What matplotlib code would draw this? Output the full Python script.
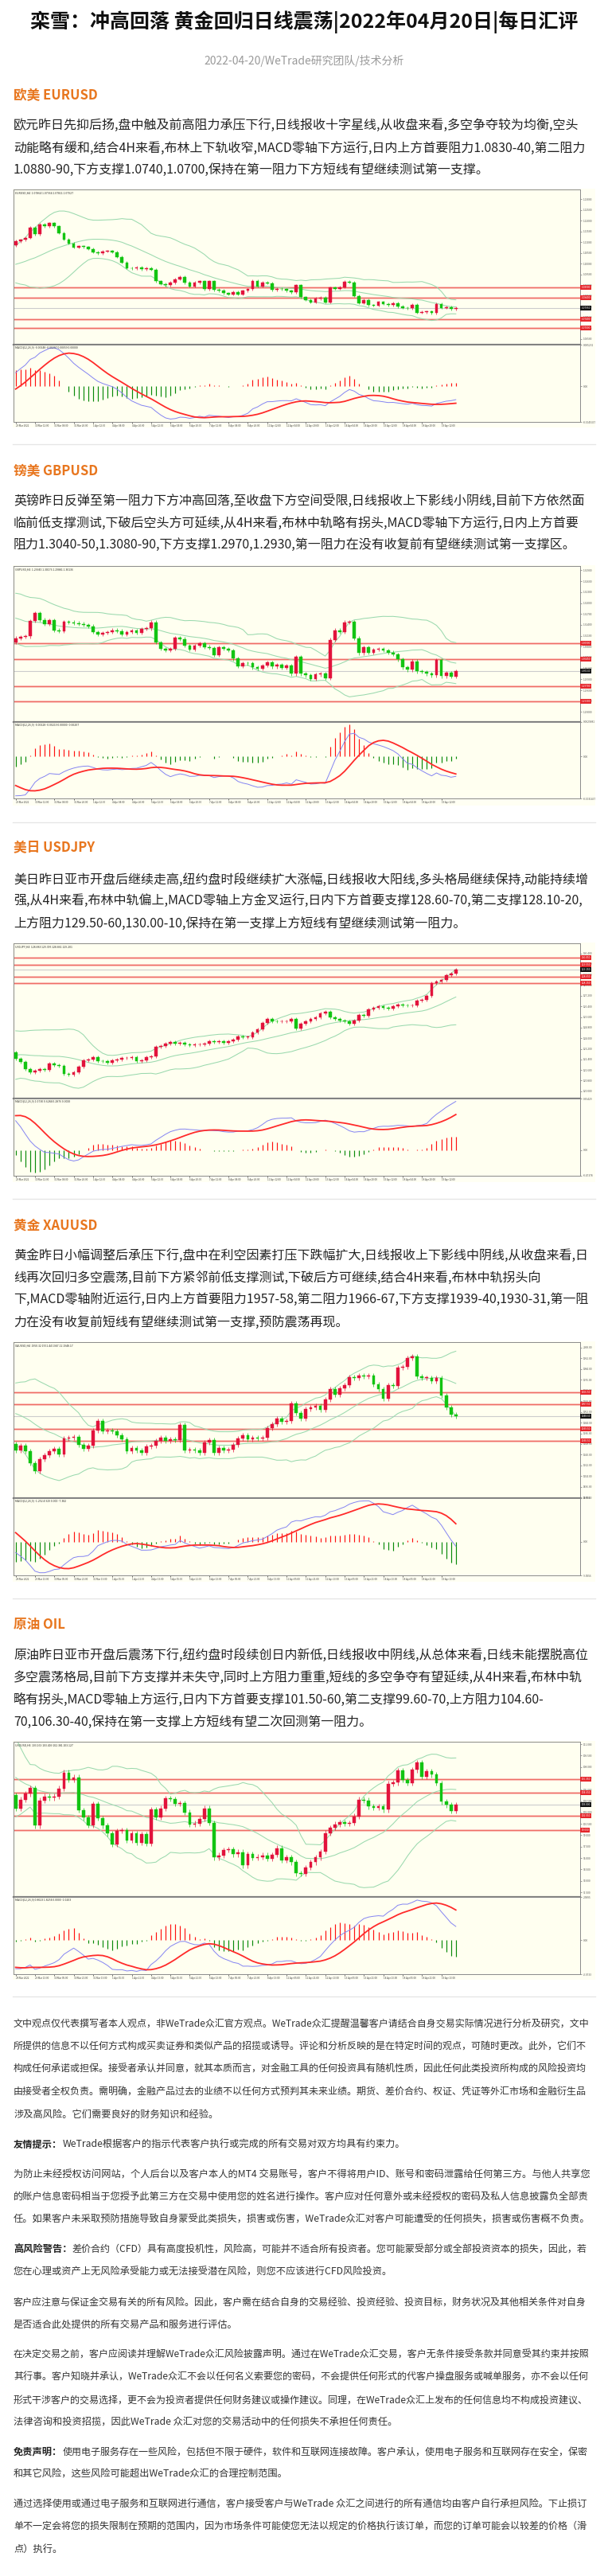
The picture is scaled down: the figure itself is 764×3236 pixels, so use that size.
import numpy as np
import pandas as pd
import matplotlib
matplotlib.use('Agg')
import matplotlib.pyplot as plt
from matplotlib.patches import Rectangle
from matplotlib.ticker import MaxNLocator

plt.rcParams['font.family'] = ['Noto Sans CJK SC', 'DejaVu Sans']

W, H = 764, 3236

# ---- 4H closes (plus a short run of earlier bars for the indicators) ----
eur_prior = [1.1030, 1.1025, 1.1035, 1.1020, 1.1010, 1.1005, 1.1015, 1.1000, 1.0990, 1.0985,
             1.0995, 1.0980, 1.0975, 1.0985, 1.0990, 1.0980, 1.0970, 1.0975, 1.0985, 1.0980,
             1.0965, 1.0955, 1.0950, 1.0960, 1.0975, 1.0990, 1.1020, 1.1045, 1.1070, 1.1085]
eur_close = [1.1104, 1.1110, 1.1120, 1.1168, 1.1138, 1.1184, 1.1175, 1.1188, 1.1174, 1.1143,
             1.1113, 1.1094, 1.1076, 1.1081, 1.1077, 1.1069, 1.1054, 1.1048, 1.1058, 1.1059,
             1.1054, 1.1032, 1.1005, 1.0980, 1.0978, 1.0983, 1.0974, 1.0980, 1.0972, 1.0918,
             1.0906, 1.0900, 1.0912, 1.0928, 1.0938, 1.0912, 1.0894, 1.0912, 1.0918, 1.0881,
             1.0918, 1.0879, 1.0875, 1.0863, 1.0857, 1.0869, 1.0857, 1.0874, 1.0881, 1.0921,
             1.0894, 1.0912, 1.0909, 1.0879, 1.0884, 1.0881, 1.0874, 1.0867, 1.0900, 1.0844,
             1.0832, 1.0820, 1.0838, 1.0842, 1.0820, 1.0888, 1.0884, 1.0891, 1.0916, 1.0913,
             1.0850, 1.0817, 1.0832, 1.0807, 1.0805, 1.0822, 1.0813, 1.0807, 1.0816, 1.0801,
             1.0795, 1.0792, 1.0810, 1.0773, 1.0775, 1.0778, 1.0770, 1.0813, 1.0795, 1.0797,
             1.0788, 1.0795]
eur_levels = [1.0890, 1.0840, 1.0740, 1.0700]

gbp_prior = [1.3240, 1.3255, 1.3262, 1.3248, 1.3232, 1.3220, 1.3205, 1.3212, 1.3196, 1.3182,
             1.3176, 1.3190, 1.3202, 1.3186, 1.3180, 1.3172, 1.3188, 1.3195, 1.3184, 1.3176,
             1.3180, 1.3168, 1.3174, 1.3160, 1.3150, 1.3138, 1.3124, 1.3110, 1.3098, 1.3092]
gbp_close = [1.3103, 1.3107, 1.3108, 1.3151, 1.3172, 1.3154, 1.3143, 1.3152, 1.3125, 1.3123,
             1.3149, 1.3147, 1.3145, 1.3143, 1.3140, 1.3136, 1.3120, 1.3114, 1.3118, 1.3120,
             1.3125, 1.3123, 1.3114, 1.3120, 1.3124, 1.3118, 1.3129, 1.3130, 1.3147, 1.3092,
             1.3074, 1.3070, 1.3074, 1.3105, 1.3101, 1.3083, 1.3072, 1.3083, 1.3089, 1.3079,
             1.3076, 1.3057, 1.3078, 1.3074, 1.3070, 1.3047, 1.3026, 1.3035, 1.3034, 1.3023,
             1.3019, 1.3028, 1.3037, 1.3025, 1.3030, 1.3022, 1.3028, 1.3005, 1.3052, 1.3005,
             1.3001, 1.2991, 1.3003, 1.3006, 1.2994, 1.3099, 1.3125, 1.3121, 1.3147, 1.3149,
             1.3103, 1.3062, 1.3078, 1.3063, 1.3072, 1.3073, 1.3070, 1.3064, 1.3059, 1.3045,
             1.3023, 1.3016, 1.3040, 1.3012, 1.3010, 1.3005, 1.3001, 1.3043, 1.2999, 1.3008,
             1.2997, 1.3013]
gbp_levels = [1.3090, 1.3045, 1.2970, 1.2930]

jpy_prior = [120.60, 120.85, 120.70, 121.05, 121.20, 121.00, 121.30, 121.45, 121.20, 121.55,
             121.70, 121.60, 121.90, 122.10, 122.00, 121.80, 122.20, 122.35, 122.10, 121.90,
             122.05, 122.35, 122.85, 123.55, 124.25, 124.65, 124.30, 123.80, 123.40, 122.90]
jpy_close = [122.45, 122.21, 121.65, 121.41, 121.55, 121.65, 121.61, 122.09, 121.95, 121.89,
             121.29, 121.25, 121.41, 121.85, 122.35, 122.41, 122.55, 122.29, 122.25, 122.15,
             122.35, 122.41, 122.49, 122.49, 122.55, 122.29, 122.35, 122.55, 122.65, 123.35,
             123.41, 123.61, 123.69, 123.61, 123.65, 123.53, 123.45, 123.53, 123.53, 123.61,
             123.75, 123.69, 123.75, 123.65, 123.75, 123.89, 124.15, 124.09, 124.09, 124.41,
             124.69, 125.15, 125.45, 125.29, 125.25, 125.25, 125.29, 125.45, 124.75, 125.09,
             125.25, 125.45, 125.55, 125.89, 126.01, 125.55, 125.45, 125.35, 125.25, 125.09,
             125.35, 125.75, 125.69, 126.15, 126.29, 126.41, 126.29, 126.25, 126.41, 126.55,
             126.49, 126.45, 126.45, 126.85, 126.89, 127.21, 128.15, 128.29, 128.41, 128.75,
             128.89, 129.15]
jpy_levels = [130.05, 129.55, 128.65, 128.15]

xau_prior = [1932, 1924, 1918, 1926, 1935, 1930, 1939, 1945, 1951, 1946,
             1953, 1956, 1959, 1954, 1961, 1964, 1958, 1955, 1950, 1958,
             1963, 1960, 1955, 1951, 1956, 1949, 1943, 1938, 1933, 1928]
xau_close = [1923.4, 1926.8, 1922.8, 1913.5, 1907.6, 1916.5, 1919.5, 1922.8, 1924.4, 1920.1,
             1932.0, 1932.7, 1933.3, 1927.4, 1924.4, 1926.8, 1937.9, 1945.2, 1937.3, 1938.3,
             1937.3, 1934.7, 1931.4, 1922.8, 1924.8, 1923.4, 1921.5, 1926.4, 1926.8, 1930.4,
             1932.7, 1930.4, 1931.4, 1930.8, 1942.2, 1923.4, 1924.0, 1923.4, 1921.5, 1929.4,
             1930.8, 1921.5, 1924.8, 1923.4, 1924.0, 1927.4, 1932.0, 1934.7, 1931.4, 1932.7,
             1932.0, 1932.7, 1939.9, 1942.6, 1947.2, 1944.6, 1945.2, 1958.1, 1951.2, 1947.2,
             1954.1, 1955.1, 1956.5, 1953.7, 1961.1, 1969.0, 1965.0, 1969.6, 1972.0, 1977.9,
             1977.5, 1978.9, 1978.3, 1979.3, 1972.3, 1969.0, 1962.0, 1972.0, 1971.6, 1984.8,
             1985.4, 1992.1, 1993.3, 1978.3, 1977.5, 1977.5, 1974.9, 1977.5, 1964.0, 1955.1,
             1950.2, 1948.6]
xau_levels = [1966.5, 1957.5, 1939.5, 1930.5]

oil_prior = [110.5, 111.8, 112.6, 113.9, 114.6, 113.8, 112.4, 111.2, 112.3, 113.1,
             113.8, 113.2, 112.0, 110.5, 109.0, 108.0, 107.0, 106.2, 105.8, 105.5,
             105.8, 106.2, 105.9, 105.0, 104.2, 104.8, 105.5, 106.0, 105.2, 104.3]
oil_close = [102.55, 103.70, 104.47, 105.25, 100.28, 103.60, 104.13, 103.95, 104.13, 105.17,
             107.27, 106.30, 106.65, 102.31, 101.33, 100.35, 103.15, 101.26, 100.28, 99.23,
             97.83, 99.58, 99.65, 98.35, 99.23, 98.00, 99.16, 97.90, 102.38, 101.40,
             102.55, 103.85, 103.78, 103.15, 103.25, 102.03, 100.45, 100.55, 101.15, 102.55,
             100.63, 96.08, 96.36, 97.06, 97.13, 96.50, 96.78, 95.03, 96.50, 96.01,
             96.15, 96.36, 95.90, 96.43, 97.30, 95.73, 96.08, 95.45, 93.98, 93.91,
             94.75, 95.45, 96.08, 96.85, 99.30, 100.00, 100.45, 100.70, 100.55, 100.63,
             101.50, 103.70, 103.60, 102.80, 102.66, 102.80, 102.38, 105.80, 105.94, 107.55,
             106.30, 105.87, 107.63, 108.60, 106.75, 107.45, 106.99, 105.87, 103.42, 103.00,
             102.20, 103.00]
oil_levels = [106.35, 104.65, 101.55, 99.65]

fx_dates = ['29 Mar 2022', '30 Mar 12:00', '31 Mar 04:00', '31 Mar 20:00', '1 Apr 12:00',
            '4 Apr 04:00', '4 Apr 20:00', '5 Apr 12:00', '6 Apr 04:00', '6 Apr 20:00',
            '7 Apr 12:00', '8 Apr 04:00', '8 Apr 20:00', '11 Apr 12:00', '12 Apr 04:00',
            '12 Apr 20:00', '13 Apr 12:00', '14 Apr 04:00', '14 Apr 20:00', '15 Apr 12:00',
            '18 Apr 04:00', '18 Apr 20:00', '19 Apr 12:00']
cfd_dates = ['28 Mar 2022', '29 Mar 13:00', '30 Mar 05:00', '30 Mar 21:00', '31 Mar 13:00',
             '1 Apr 05:00', '1 Apr 21:00', '4 Apr 13:00', '5 Apr 05:00', '5 Apr 21:00',
             '6 Apr 13:00', '7 Apr 05:00', '7 Apr 21:00', '8 Apr 13:00', '11 Apr 05:00',
             '11 Apr 21:00', '12 Apr 13:00', '13 Apr 05:00', '13 Apr 21:00', '14 Apr 13:00',
             '18 Apr 05:00', '18 Apr 21:00', '19 Apr 13:00']

# ---- page text ----
TITLE = '栾雪：冲高回落 黄金回归日线震荡|2022年04月20日|每日汇评'
SUBTITLE = '2022-04-20/WeTrade研究团队/技术分析'

eur_text = ['欧元昨日先抑后扬,盘中触及前高阻力承压下行,日线报收十字星线,从收盘来看,多空争夺较为均衡,空头',
            '动能略有缓和,结合4H来看,布林上下轨收窄,MACD零轴下方运行,日内上方首要阻力1.0830-40,第二阻力',
            '1.0880-90,下方支撑1.0740,1.0700,保持在第一阻力下方短线有望继续测试第一支撑。']
gbp_text = ['英镑昨日反弹至第一阻力下方冲高回落,至收盘下方空间受限,日线报收上下影线小阴线,目前下方依然面',
            '临前低支撑测试,下破后空头方可延续,从4H来看,布林中轨略有拐头,MACD零轴下方运行,日内上方首要',
            '阻力1.3040-50,1.3080-90,下方支撑1.2970,1.2930,第一阻力在没有收复前有望继续测试第一支撑区。']
jpy_text = ['美日昨日亚市开盘后继续走高,纽约盘时段继续扩大涨幅,日线报收大阳线,多头格局继续保持,动能持续增',
            '强,从4H来看,布林中轨偏上,MACD零轴上方金叉运行,日内下方首要支撑128.60-70,第二支撑128.10-20,',
            '上方阻力129.50-60,130.00-10,保持在第一支撑上方短线有望继续测试第一阻力。']
xau_text = ['黄金昨日小幅调整后承压下行,盘中在利空因素打压下跌幅扩大,日线报收上下影线中阴线,从收盘来看,日',
            '线再次回归多空震荡,目前下方紧邻前低支撑测试,下破后方可继续,结合4H来看,布林中轨拐头向',
            '下,MACD零轴附近运行,日内上方首要阻力1957-58,第二阻力1966-67,下方支撑1939-40,1930-31,第一阻',
            '力在没有收复前短线有望继续测试第一支撑,预防震荡再现。']
oil_text = ['原油昨日亚市开盘后震荡下行,纽约盘时段续创日内新低,日线报收中阴线,从总体来看,日线未能摆脱高位',
            '多空震荡格局,目前下方支撑并未失守,同时上方阻力重重,短线的多空争夺有望延续,从4H来看,布林中轨',
            '略有拐头,MACD零轴上方运行,日内下方首要支撑101.50-60,第二支撑99.60-70,上方阻力104.60-',
            '70,106.30-40,保持在第一支撑上方短线有望二次回测第一阻力。']

disclaimer = [
    (2543, ['文中观点仅代表撰写者本人观点，非WeTrade众汇官方观点。WeTrade众汇提醒温馨客户请结合自身交易实际情况进行分析及研究，文中',
            '所提供的信息不以任何方式构成买卖证券和类似产品的招揽或诱导。评论和分析反映的是在特定时间的观点，可随时更改。此外，它们不',
            '构成任何承诺或担保。接受者承认并同意，就其本质而言，对金融工具的任何投资具有随机性质，因此任何此类投资所构成的风险投资均',
            '由接受者全权负责。需明确，金融产品过去的业绩不以任何方式预判其未来业绩。期货、差价合约、权证、凭证等外汇市场和金融衍生品',
            '涉及高风险。它们需要良好的财务知识和经验。']),
    (2694, [('友情提示：', 'WeTrade根据客户的指示代表客户执行或完成的所有交易对双方均具有约束力。')]),
    (2731.7, ['为防止未经授权访问网站，个人后台以及客户本人的MT4 交易账号，客户不得将用户ID、账号和密码泄露给任何第三方。与他人共享您',
              '的账户信息密码相当于您授予此第三方在交易中使用您的姓名进行操作。客户应对任何意外或未经授权的密码及私人信息披露负全部责',
              '任。如果客户未采取预防措施导致自身蒙受此类损失，损害或伤害，WeTrade众汇对客户可能遭受的任何损失，损害或伤害概不负责。']),
    (2826, [('高风险警告：', '差价合约（CFD）具有高度投机性，风险高，可能并不适合所有投资者。您可能蒙受部分或全部投资资本的损失，因此，若'),
            '您在心理或资产上无风险承受能力或无法接受潜在风险，则您不应该进行CFD风险投资。']),
    (2892.7, ['客户应注意与保证金交易有关的所有风险。因此，客户需在结合自身的交易经验、投资经验、投资目标，财务状况及其他相关条件对自身',
              '是否适合此处提供的所有交易产品和服务进行评估。']),
    (2958.3, ['在决定交易之前，客户应阅读并理解WeTrade众汇风险披露声明。通过在WeTrade众汇交易，客户无条件接受条款并同意受其约束并按照',
              '其行事。客户知晓并承认，WeTrade众汇不会以任何名义索要您的密码，不会提供任何形式的代客户操盘服务或喊单服务，亦不会以任何',
              '形式干涉客户的交易选择，更不会为投资者提供任何财务建议或操作建议。同理，在WeTrade众汇上发布的任何信息均不构成投资建议、',
              '法律咨询和投资招揽，因此WeTrade 众汇对您的交易活动中的任何损失不承担任何责任。']),
    (3080, [('免责声明：', '使用电子服务存在一些风险，包括但不限于硬件，软件和互联网连接故障。客户承认，使用电子服务和互联网存在安全，保密'),
            '和其它风险，这些风险可能超出WeTrade众汇的合理控制范围。']),
    (3146, ['通过选择使用或通过电子服务和互联网进行通信，客户接受客户与WeTrade 众汇之间进行的所有通信均由客户自行承担风险。下止损订',
            '单不一定会将您的损失限制在预期的范围内，因为市场条件可能使您无法以规定的价格执行该订单，而您的订单可能会以较差的价格（滑',
            '点）执行。']),
]

UP, DOWN = '#E2133C', '#12C412'
BAND = '#9AD9AE'
DARK = '#222222'
ORANGE = '#E8761E'

fig = plt.figure(figsize=(W / 100, H / 100), dpi=100)
fig.patch.set_facecolor('white')
renderer = fig.canvas.get_renderer()


def put(x, y, s, **kw):
    kw.setdefault('va', 'center')
    return fig.text(x / W, 1 - y / H, s, **kw)


def draw_chart(top, mid, bot, img_bot, prior, closes, levels, ylim, wick, fmt,
               label, macd_label, dates):
    left, right = 17.2, 729
    fig.add_artist(Rectangle((16 / W, 1 - img_bot / H), (748 - 16) / W, (img_bot - top + 1) / H,
                             transform=fig.transFigure, facecolor='#FFFFF3', edgecolor='none', zorder=0))
    ax = fig.add_axes([left / W, 1 - mid / H, (right - left) / W, (mid - top) / H])
    axm = fig.add_axes([left / W, 1 - bot / H, (right - left) / W, (bot - mid) / H])

    s = pd.Series(prior + closes, dtype=float)
    n0 = len(prior)
    x = np.arange(len(closes))
    c = np.array(closes)
    o = np.r_[prior[-1], c[:-1]]
    cols = [UP if cc >= oo else DOWN for oo, cc in zip(o, c)]

    mid_b = s.rolling(20).mean()
    sd = s.rolling(20).std(ddof=0)
    for band in (mid_b + 2 * sd, mid_b, mid_b - 2 * sd):
        ax.plot(x, band.values[n0:], color=BAND, lw=0.75, zorder=2)

    for lv in levels:
        ax.axhline(lv, color='#F8B8B0', lw=1.9, zorder=1)
        ax.axhline(lv, color='#EE5F57', lw=0.6, zorder=1)
        ax.text(1.002, lv, fmt.format(lv), transform=ax.get_yaxis_transform(), fontsize=2.3,
                color='white', va='center', ha='left', clip_on=False, zorder=5,
                bbox=dict(boxstyle='square,pad=0.3', fc='#E5262B', ec='none'))
    ax.axhline(c[-1], color='#CCCCCC', lw=0.8, zorder=1)
    ax.text(1.002, c[-1], fmt.format(c[-1]), transform=ax.get_yaxis_transform(), fontsize=2.3,
            color='white', va='center', ha='left', clip_on=False, zorder=5,
            bbox=dict(boxstyle='square,pad=0.3', fc='#111111', ec='none'))

    lo, hi = np.minimum(o, c), np.maximum(o, c)
    span = ylim[1] - ylim[0]
    ax.vlines(x, lo - wick, hi + wick, colors=cols, lw=0.5, zorder=3)
    ax.bar(x, np.maximum(hi - lo, span * 0.002), bottom=lo, width=0.62, color=cols,
           edgecolor=cols, lw=0.3, zorder=4)

    ax.set_xlim(-0.4, 116.7)
    ax.set_ylim(*ylim)
    ax.set_facecolor('#FFFFF0')
    ax.yaxis.tick_right()
    ax.yaxis.set_major_locator(MaxNLocator(nbins=15))
    ax.yaxis.set_major_formatter(plt.FuncFormatter(lambda v, p: fmt.format(v)))
    ax.tick_params(axis='y', labelsize=2.3, length=1.5, width=0.4, pad=1, colors='#555555')
    ax.tick_params(axis='x', bottom=False, labelbottom=False)
    ax.text(0.003, 0.99, label, transform=ax.transAxes, fontsize=2.5, va='top', color='#333333')

    # MACD(12,26,9)
    ema12 = s.ewm(span=12, adjust=False).mean()
    ema26 = s.ewm(span=26, adjust=False).mean()
    macd = ema12 - ema26
    sig = macd.rolling(9).mean()
    hist = (macd - sig).values[n0:]
    m, g = macd.values[n0:], sig.values[n0:]
    hcols = ['#FF1010' if h >= 0 else '#0A8A0A' for h in hist]
    axm.vlines(x, 0, hist, colors=hcols, lw=0.85, zorder=2)
    axm.plot(x, m, color='#8383F2', lw=0.7, zorder=3)
    axm.plot(x, g, color='#FF2A2A', lw=1.3, zorder=3)
    vmin = min(m.min(), g.min(), hist.min())
    vmax = max(m.max(), g.max(), hist.max())
    pad = (vmax - vmin) * 0.04
    axm.set_ylim(vmin - pad, vmax + pad)
    axm.set_xlim(-0.4, 116.7)
    axm.set_facecolor('#FFFFF0')
    axm.yaxis.tick_right()
    axm.set_yticks([vmax + pad, 0, vmin - pad])
    axm.set_yticklabels([f'{vmax + pad:.5g}', '0.00', f'{vmin - pad:.5g}'])
    axm.tick_params(axis='y', labelsize=2.3, length=1.5, width=0.4, pad=1, colors='#555555')
    axm.set_xticks(np.arange(0, len(dates) * 4, 4))
    axm.set_xticklabels(dates, fontsize=2.2, ha='left', color='#444444')
    axm.tick_params(axis='x', length=1.5, width=0.4, pad=0.8)
    axm.text(0.003, 0.985, macd_label, transform=axm.transAxes, fontsize=2.5, va='top',
             color='#333333')

    for a in (ax, axm):
        for sp in a.spines.values():
            sp.set_color('#8A8A8A')
            sp.set_linewidth(0.7)
    ax.spines['bottom'].set_linewidth(1.6)
    ax.spines['bottom'].set_color('#7A7A7A')


# ---- header ----
put(382, 28, TITLE, fontsize=18, fontweight='bold', ha='center', color='#111111')
put(382, 77, SUBTITLE, fontsize=10, ha='center', color='#9A9A9A')

sections = [
    ('欧美 EURUSD', 120, eur_text, 158.3, (238.3, 433.3, 530, 537), eur_prior, eur_close,
     eur_levels, (1.0622, 1.1344), 0.0006, '{:.5f}',
     'EURUSD,H4  1.07864 1.07964 1.07811 1.07927',
     'MACD(12,26,9) -0.00148 -0.00207 0.00059 0.00000', fx_dates),
    ('镑美 GBPUSD', 591.7, gbp_text, 629.3, (711, 906.7, 1003.3, 1011.7), gbp_prior, gbp_close,
     gbp_levels, (1.2873, 1.3302), 0.0005, '{:.5f}',
     'GBPUSD,H4  1.29945 1.30176 1.29881 1.30136',
     'MACD(12,26,9) -0.00128 -0.00219 0.00000 -0.00207', fx_dates),
    ('美日 USDJPY', 1065, jpy_text, 1105, (1185, 1380, 1476.7, 1485), jpy_prior, jpy_close,
     jpy_levels, (119.45, 131.15), 0.12, '{:.3f}',
     'USDJPY,H4  128.883 129.395 128.861 129.201',
     'MACD(12,26,9) 1.0730 0.6284 0.2876 0.0000', fx_dates),
    ('黄金 XAUUSD', 1539.3, xau_text, 1578, (1686, 1881.7, 1979.3, 1986.7), xau_prior, xau_close,
     xau_levels, (1887.8, 2004.0), 1.8, '{:.2f}',
     'XAUUSD,H4  1950.32 1951.44 1947.12 1948.17',
     'MACD(12,26,9) -1.252 4.929 0.000 -7.382', cfd_dates),
    ('原油 OIL', 2041, oil_text, 2080, (2188.3, 2383.3, 2480, 2486.7), oil_prior, oil_close,
     oil_levels, (90.84, 111.29), 0.35, '{:.3f}',
     'USOUSD,H4  103.169 103.409 102.381 103.127',
     'MACD(12,26,9) 0.8023 1.8254 0.0000 -1.0203', cfd_dates),
]

for (head, hy, text, ty, geom, prior, closes, levels, ylim, wick, fmt,
     label, mlabel, dates) in sections:
    put(17, hy, head, fontsize=12, fontweight='bold', color=ORANGE)
    for k, ln in enumerate(text):
        put(17, ty + k * 27.8, ln, fontsize=11.5, color=DARK)
    draw_chart(*geom, prior, closes, levels, ylim, wick, fmt, label, mlabel, dates)

for sy in (558.3, 1032.7, 1505.7, 2007.7, 2508.3):
    fig.add_artist(plt.Line2D([16 / W, 748 / W], [1 - sy / H] * 2, color='#E6E6E6', lw=1.0))

# ---- disclaimer ----
for y0, lines in disclaimer:
    for k, ln in enumerate(lines):
        y = y0 + k * 28.3
        x = 17
        if isinstance(ln, tuple):
            b = put(x, y, ln[0], fontsize=8.8, fontweight='bold', color=DARK)
            x = b.get_window_extent(renderer).x1
            ln = ln[1]
        t = put(x, y, ln, fontsize=8.8, color='#333333')
        if k < len(lines) - 1:
            w = t.get_window_extent(renderer).width
            t.set_fontsize(8.8 * float(np.clip((742 - x) / w, 0.9, 1.08)))

fig.savefig('out.png', dpi=100, facecolor='white')
